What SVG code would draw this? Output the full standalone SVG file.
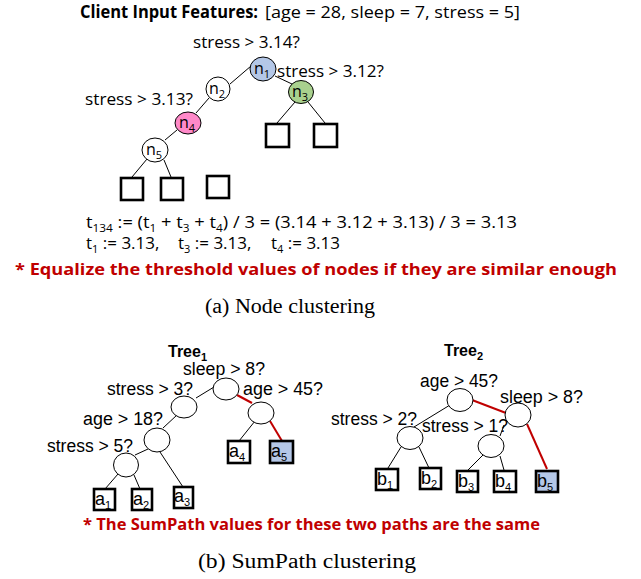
<svg xmlns="http://www.w3.org/2000/svg" width="641" height="579" viewBox="0 0 641 579">
  <style>
    .t { font-family: "Open Sans", "Noto Sans", sans-serif; fill: #000; }
    .c { font-family: "Liberation Sans", "Open Sans", sans-serif; fill: #000; }
    .bold { font-weight: bold; }
    .red { font-family: "Open Sans", "Noto Sans", sans-serif; font-weight: bold; fill: #C00000; font-size: 16px; }
    .cap { font-family: "Liberation Serif", "Times New Roman", serif; font-size: 20px; fill: #000; }
    .node { stroke: #000; stroke-width: 1; fill: #fff; }
    .leaf { stroke: #000; stroke-width: 2.6; fill: #fff; }
    .edge { stroke: #000; stroke-width: 1; fill: none; }
    .hot { stroke: #C00000; stroke-width: 2; fill: none; }
    .lbl { font-size: 17px; }
    .bl { font-size: 18px; }
    .sub { font-size: 11px; }
    .ls { font-size: 18px; }
  </style>

  <!-- header line -->
  <text class="t" x="80" y="18" font-size="17"><tspan class="bold" textLength="178" lengthAdjust="spacingAndGlyphs">Client Input Features:</tspan><tspan x="265" textLength="255" lengthAdjust="spacingAndGlyphs">[age = 28, sleep = 7, stress = 5]</tspan></text>

  <!-- connectors of the upper tree and both lower trees -->
  <g id="connectors">
    <line class="edge" x1="251" y1="66" x2="230" y2="84"/>
    <line class="edge" x1="275" y1="76" x2="292" y2="84"/>
    <line class="edge" x1="295" y1="102" x2="277" y2="123"/>
    <line class="edge" x1="308" y1="102" x2="325" y2="123"/>
    <line class="edge" x1="209" y1="98" x2="196" y2="113"/>
    <line class="edge" x1="177" y1="130" x2="165" y2="140"/>
    <line class="edge" x1="147" y1="159" x2="132" y2="177"/>
    <line class="edge" x1="164" y1="160" x2="171" y2="177"/>

    <line class="edge" x1="214" y1="387" x2="196" y2="398"/>
    <line class="hot" x1="237" y1="395" x2="252" y2="403"/>
    <line class="edge" x1="255" y1="421" x2="239" y2="441"/>
    <line class="hot" x1="270" y1="421" x2="282" y2="441"/>
    <line class="edge" x1="177" y1="415" x2="163" y2="428"/>
    <line class="edge" x1="148" y1="449" x2="135" y2="455"/>
    <line class="edge" x1="160" y1="452" x2="183" y2="487"/>
    <line class="edge" x1="118" y1="474" x2="105" y2="489"/>
    <line class="edge" x1="134" y1="475" x2="140" y2="489"/>

    <line class="edge" x1="450" y1="405" x2="414" y2="427"/>
    <line class="hot" x1="472" y1="400" x2="506" y2="413"/>
    <line class="edge" x1="504" y1="425" x2="500" y2="436"/>
    <line class="hot" x1="527" y1="424" x2="547" y2="469"/>
    <line class="edge" x1="401" y1="447" x2="388" y2="468"/>
    <line class="edge" x1="419" y1="447" x2="429" y2="468"/>
    <line class="edge" x1="483" y1="455" x2="468" y2="470"/>
    <line class="edge" x1="500" y1="456" x2="504" y2="470"/>
  </g>

  <!-- upper tree -->
  <g id="n1">
    <ellipse cx="263" cy="69" rx="13" ry="12" class="node" style="fill:#B4C7E7"/>
    <text class="t" x="254" y="74" font-size="16">n<tspan class="sub" dy="4">1</tspan></text>
    <text class="t lbl" x="193" y="48" textLength="107" lengthAdjust="spacingAndGlyphs">stress &gt; 3.14?</text>
  </g>
  <g id="n2">
    <ellipse cx="218" cy="89" rx="12" ry="12" class="node"/>
    <text class="t" x="209" y="94" font-size="16">n<tspan class="sub" dy="4">2</tspan></text>
  </g>
  <g id="n3">
    <ellipse cx="301" cy="92" rx="12.5" ry="11.5" class="node" style="fill:#A9D18E"/>
    <text class="t" x="292" y="97" font-size="16">n<tspan class="sub" dy="4">3</tspan></text>
    <text class="t lbl" x="277" y="77" textLength="107" lengthAdjust="spacingAndGlyphs">stress &gt; 3.12?</text>
  </g>
  <g id="n4">
    <ellipse cx="188" cy="123" rx="13" ry="11" class="node" style="fill:#FF89C9"/>
    <text class="t" x="179" y="128" font-size="16">n<tspan class="sub" dy="4">4</tspan></text>
    <text class="t lbl" x="85" y="105" textLength="108" lengthAdjust="spacingAndGlyphs">stress &gt; 3.13?</text>
  </g>
  <g id="n5">
    <ellipse cx="155" cy="150" rx="13" ry="12" class="node"/>
    <text class="t" x="146" y="155" font-size="16">n<tspan class="sub" dy="4">5</tspan></text>
  </g>
  <g id="leaves-top">
    <rect class="leaf" x="121" y="178" width="22" height="22"/>
    <rect class="leaf" x="161" y="178" width="22" height="22"/>
    <rect class="leaf" x="207" y="176" width="22" height="22"/>
    <rect class="leaf" x="266" y="124" width="23" height="23"/>
    <rect class="leaf" x="314" y="124" width="23" height="23"/>
  </g>

  <!-- threshold averaging -->
  <g id="formula">
    <text class="t" x="86" y="228" font-size="17" textLength="431" lengthAdjust="spacingAndGlyphs">t<tspan class="sub" dy="4">134</tspan><tspan dy="-4"> := (t</tspan><tspan class="sub" dy="4">1</tspan><tspan dy="-4"> + t</tspan><tspan class="sub" dy="4">3</tspan><tspan dy="-4"> + t</tspan><tspan class="sub" dy="4">4</tspan><tspan dy="-4">) / 3 = (3.14 + 3.12 + 3.13) / 3 = 3.13</tspan></text>
    <text class="t" x="86" y="249" font-size="17">t<tspan class="sub" dy="4">1</tspan><tspan dy="-4"> := 3.13,</tspan></text>
    <text class="t" x="178" y="249" font-size="17">t<tspan class="sub" dy="4">3</tspan><tspan dy="-4"> := 3.13,</tspan></text>
    <text class="t" x="271" y="249" font-size="17">t<tspan class="sub" dy="4">4</tspan><tspan dy="-4"> := 3.13</tspan></text>
    <text class="red" x="15" y="275" textLength="602" lengthAdjust="spacingAndGlyphs">* Equalize the threshold values of nodes if they are similar enough</text>
  </g>
  <text class="cap" x="205" y="313" textLength="170" lengthAdjust="spacingAndGlyphs">(a) Node clustering</text>

  <!-- Tree 1 -->
  <text class="c bold" x="168" y="357" font-size="16">Tree<tspan font-size="11" dy="4">1</tspan></text>
  <g id="t1-root">
    <ellipse cx="226" cy="389" rx="13" ry="11" class="node"/>
    <text class="c bl" x="183" y="375" textLength="82" lengthAdjust="spacingAndGlyphs">sleep &gt; 8?</text>
  </g>
  <g id="t1-left">
    <ellipse cx="184" cy="407" rx="13" ry="11" class="node"/>
    <text class="c bl" x="107" y="395" textLength="86" lengthAdjust="spacingAndGlyphs">stress &gt; 3?</text>
  </g>
  <g id="t1-right">
    <ellipse cx="261" cy="413" rx="13" ry="11" class="node"/>
    <text class="c bl" x="243" y="395" textLength="80" lengthAdjust="spacingAndGlyphs">age &gt; 45?</text>
  </g>
  <g id="t1-age">
    <ellipse cx="157" cy="440" rx="13" ry="12" class="node"/>
    <text class="c bl" x="83" y="425" textLength="80" lengthAdjust="spacingAndGlyphs">age &gt; 18?</text>
  </g>
  <g id="t1-stress">
    <ellipse cx="126" cy="465" rx="12.5" ry="12" class="node"/>
    <text class="c bl" x="47" y="452" textLength="86" lengthAdjust="spacingAndGlyphs">stress &gt; 5?</text>
  </g>
  <g id="a1"><rect class="leaf" x="94" y="489" width="21" height="21"/><text class="c ls" x="95" y="505">a<tspan font-size="11" dy="4">1</tspan></text></g>
  <g id="a2"><rect class="leaf" x="132" y="489" width="20" height="21"/><text class="c ls" x="133" y="505">a<tspan font-size="11" dy="4">2</tspan></text></g>
  <g id="a3"><rect class="leaf" x="174" y="487" width="19" height="21"/><text class="c ls" x="174" y="502">a<tspan font-size="11" dy="4">3</tspan></text></g>
  <g id="a4"><rect class="leaf" x="228" y="441" width="22" height="22"/><text class="c ls" x="229" y="457">a<tspan font-size="11" dy="4">4</tspan></text></g>
  <g id="a5"><rect class="leaf" x="270" y="441" width="23" height="22" style="fill:#B4C7E7"/><text class="c ls" x="271" y="457">a<tspan font-size="11" dy="4">5</tspan></text></g>

  <!-- Tree 2 -->
  <text class="c bold" x="444" y="356" font-size="16">Tree<tspan font-size="11" dy="4">2</tspan></text>
  <g id="t2-root">
    <ellipse cx="460" cy="400" rx="13" ry="11.5" class="node"/>
    <text class="c bl" x="420" y="387" textLength="78" lengthAdjust="spacingAndGlyphs">age &gt; 45?</text>
  </g>
  <g id="t2-sleep">
    <ellipse cx="518" cy="415" rx="13" ry="12" class="node"/>
    <text class="c bl" x="500" y="403" textLength="83" lengthAdjust="spacingAndGlyphs">sleep &gt; 8?</text>
  </g>
  <g id="t2-stress2">
    <ellipse cx="410" cy="438" rx="13" ry="11.5" class="node"/>
    <text class="c bl" x="331" y="425" textLength="86" lengthAdjust="spacingAndGlyphs">stress &gt; 2?</text>
  </g>
  <g id="t2-stress1">
    <ellipse cx="491" cy="446" rx="13" ry="11.5" class="node"/>
    <text class="c bl" x="422" y="432" textLength="86" lengthAdjust="spacingAndGlyphs">stress &gt; 1?</text>
  </g>
  <g id="b1"><rect class="leaf" x="376" y="469" width="22" height="21"/><text class="c ls" x="377" y="485">b<tspan font-size="11" dy="4">1</tspan></text></g>
  <g id="b2"><rect class="leaf" x="420" y="468" width="21" height="21"/><text class="c ls" x="421" y="484">b<tspan font-size="11" dy="4">2</tspan></text></g>
  <g id="b3"><rect class="leaf" x="457" y="471" width="21" height="21"/><text class="c ls" x="458" y="487">b<tspan font-size="11" dy="4">3</tspan></text></g>
  <g id="b4"><rect class="leaf" x="494" y="471" width="22" height="21"/><text class="c ls" x="495" y="487">b<tspan font-size="11" dy="4">4</tspan></text></g>
  <g id="b5"><rect class="leaf" x="536" y="471" width="22" height="21" style="fill:#B4C7E7"/><text class="c ls" x="537" y="487">b<tspan font-size="11" dy="4">5</tspan></text></g>

  <text class="red" x="83" y="530" textLength="457" lengthAdjust="spacingAndGlyphs">* The SumPath values for these two paths are the same</text>
  <text class="cap" x="198" y="568" textLength="218" lengthAdjust="spacingAndGlyphs">(b) SumPath clustering</text>
</svg>
